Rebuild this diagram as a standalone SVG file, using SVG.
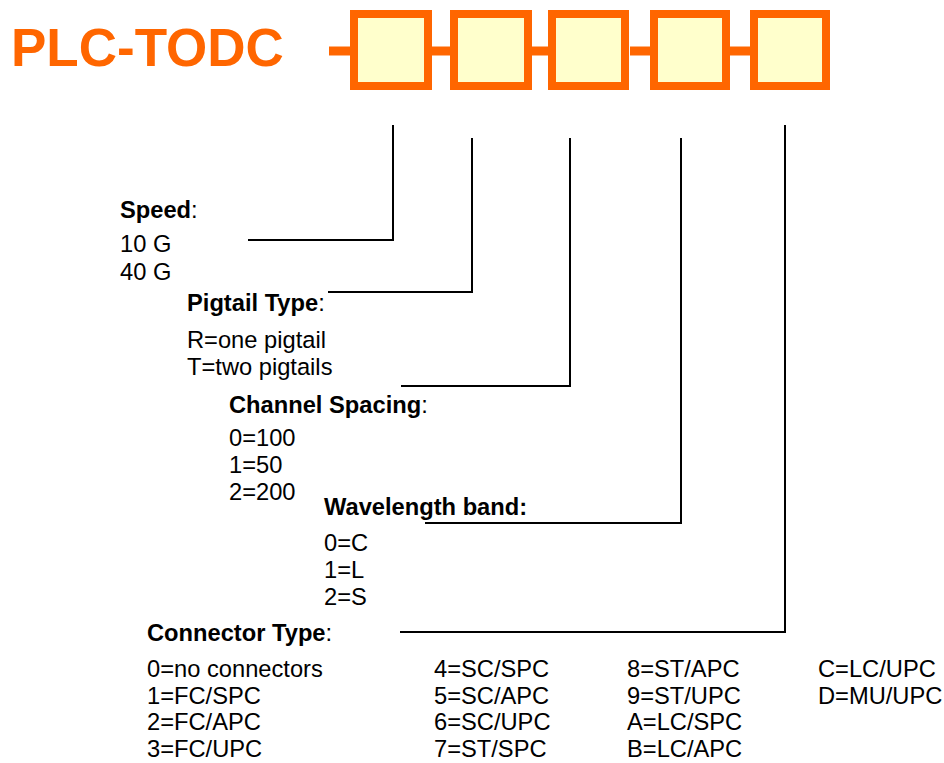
<svg xmlns="http://www.w3.org/2000/svg" width="944" height="763" viewBox="0 0 944 763">
<style>
.t{font-family:"Liberation Sans",Arial,sans-serif;font-size:23.7px;fill:#000}
.b{font-weight:bold}
.title{font-family:"Liberation Sans",Arial,sans-serif;font-size:53px;font-weight:bold;fill:#FF6600}
.box{fill:#FFFFCC;stroke:#FF6600;stroke-width:8}
.link{stroke:#FF6600;stroke-width:9;fill:none}
.conn{stroke:#000;stroke-width:2;fill:none}
</style>
<rect width="944" height="763" fill="#fff"/>
<g id="title"><text class="title" x="11" y="66">PLC-TODC</text></g>
<g id="code">
<line class="link" x1="329" y1="51" x2="350" y2="51"/>
<line class="link" x1="432" y1="51" x2="450" y2="51"/>
<line class="link" x1="532" y1="51" x2="548" y2="51"/>
<line class="link" x1="630" y1="51" x2="650" y2="51"/>
<line class="link" x1="730" y1="51" x2="750" y2="51"/>
<g id="box1"><rect class="box" x="354" y="14" width="74" height="72"/></g>
<g id="box2"><rect class="box" x="454" y="14" width="74" height="72"/></g>
<g id="box3"><rect class="box" x="552" y="14" width="73" height="72"/></g>
<g id="box4"><rect class="box" x="654" y="14" width="72" height="72"/></g>
<g id="box5"><rect class="box" x="754" y="14" width="72" height="72"/></g>
</g>
<g id="connectors">
<path class="conn" d="M393,125 V240 H248"/>
<path class="conn" d="M472,138 V292 H328"/>
<path class="conn" d="M570,138 V386 H401"/>
<path class="conn" d="M681,138 V523 H425"/>
<path class="conn" d="M785,125 V632 H400"/>
</g>
<g id="speed">
<text class="t" x="120" y="218"><tspan class="b">Speed</tspan>:</text>
<text class="t" x="120" y="252">10 G</text>
<text class="t" x="120" y="280">40 G</text>
</g>
<g id="pigtail">
<text class="t" x="187" y="311"><tspan class="b">Pigtail Type</tspan>:</text>
<text class="t" x="187" y="348">R=one pigtail</text>
<text class="t" x="187" y="375">T=two pigtails</text>
</g>
<g id="spacing">
<text class="t" x="229" y="413"><tspan class="b">Channel Spacing</tspan>:</text>
<text class="t" x="229" y="446">0=100</text>
<text class="t" x="229" y="473">1=50</text>
<text class="t" x="229" y="500">2=200</text>
</g>
<g id="band">
<text class="t b" x="324" y="515">Wavelength band:</text>
<text class="t" x="324" y="551">0=C</text>
<text class="t" x="324" y="578">1=L</text>
<text class="t" x="324" y="605">2=S</text>
</g>
<g id="connector">
<text class="t" x="147" y="641"><tspan class="b">Connector Type</tspan>:</text>
<text class="t" x="147" y="677">0=no connectors</text>
<text class="t" x="147" y="704">1=FC/SPC</text>
<text class="t" x="147" y="730">2=FC/APC</text>
<text class="t" x="147" y="757">3=FC/UPC</text>
<text class="t" x="434" y="677">4=SC/SPC</text>
<text class="t" x="434" y="704">5=SC/APC</text>
<text class="t" x="434" y="730">6=SC/UPC</text>
<text class="t" x="434" y="757">7=ST/SPC</text>
<text class="t" x="627" y="677">8=ST/APC</text>
<text class="t" x="627" y="704">9=ST/UPC</text>
<text class="t" x="627" y="730">A=LC/SPC</text>
<text class="t" x="627" y="757">B=LC/APC</text>
<text class="t" x="818" y="677">C=LC/UPC</text>
<text class="t" x="818" y="704">D=MU/UPC</text>
</g>
</svg>
